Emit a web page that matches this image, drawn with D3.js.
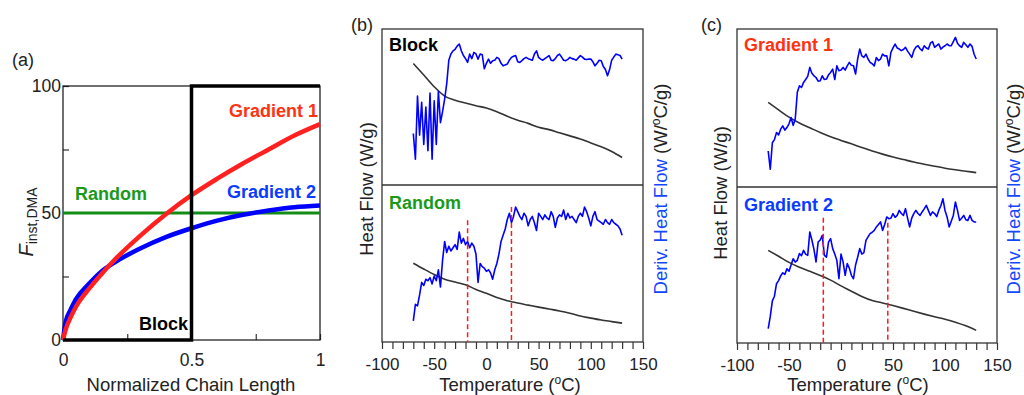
<!DOCTYPE html>
<html>
<head>
<meta charset="utf-8">
<script src="https://cdn.jsdelivr.net/npm/d3@7"></script>
<style>
  body { margin: 0; background: #fff; }
  svg { display: block; font-family: "Liberation Sans", Arial, sans-serif; }
</style>
</head>
<body>
<svg id="chart" width="1024" height="395"></svg>
<script>
// ---------- panel (a): composition along the chain ----------
const chainX = [0, 0.01, 0.03, 0.05, 0.1, 0.15, 0.2, 0.3, 0.4, 0.5, 0.6, 0.7, 0.8, 0.9, 1];
const grad1Fraction = [0, 4, 9, 13, 20, 26, 31.5, 41, 49.5, 57, 63.5, 69.5, 75, 80.5, 85];
const grad2Fraction = [0, 7, 12, 16, 22, 27, 30.5, 36, 40.5, 44, 47, 49.3, 51, 52.3, 53];
const blockX = [0, 0.5, 0.5, 1];
const blockFraction = [0, 0, 100, 100];
const randomX = [0, 1];
const randomFraction = [50, 50];
const chainTicks = [0, 0.25, 0.5, 0.75, 1];
const chainTickLabels = ["0", "", "0.5", "", "1"];
const fracTicks = [0, 25, 50, 75, 100];
const fracTickLabels = ["0", "", "50", "", "100"];

// ---------- DSC panels (b), (c) ----------
// heat flow sampled every 10 °C, derivative every 2 °C (arbitrary units, 0-100 per sub-plot)
const flowTemps = d3.range(-70, 131, 10);
const derivTemps = d3.range(-70, 131, 2);
const tempTicks = d3.range(-100, 151, 10);
const tempLabels = ["-100", "-50", "0", "50", "100", "150"];

const blockFlow = [77.9, 70.5, 63, 57, 54.3, 52.5, 50.8, 49.4, 47, 44, 41.5, 39.5, 37, 35.5, 33.5, 31.5, 29.5, 27, 24.5, 21.5, 17.6];
const blockDeriv = [
  33, 16.5, 57, 32, 53, 26, 50, 22, 59, 16.5, 54, 26, 60,
  40, 47, 55, 65, 80, 84, 86, 87, 89, 90.4, 86, 83,
  81, 78.6, 84, 81, 85, 84, 80.7, 84, 83.5, 74.5, 78, 80.7,
  78, 79.7, 80, 81.8, 81, 78, 76.4, 77, 77.5, 80, 81.8, 82.5,
  83, 79, 78.6, 79.7, 81, 81.8, 81, 80.5, 80, 84, 86, 81.8,
  80.7, 80, 81, 82, 83, 80, 79.7, 81, 83, 83.9, 82, 80,
  79.7, 80.5, 81.8, 81, 80.7, 80, 81.5, 82.9, 82, 80.7, 80.5, 80.7,
  80.7, 79, 76.4, 78, 80, 79.7, 76, 74, 70, 74, 80, 82,
  83.9, 83.5, 83, 80.7];

const randomFlow = [50.2, 46.5, 43, 40, 38.2, 36.5, 33.5, 31, 28.3, 26.3, 24.8, 23.5, 22.2, 21, 19.8, 18.3, 16.5, 15.2, 14, 13, 12];
const randomDeriv = [
  13.5, 24, 23, 30, 38, 36, 40, 39, 41, 37, 42, 39, 46,
  35, 52, 64, 57, 61, 58, 60, 62, 59, 70, 63, 66,
  62, 64, 60, 63, 61, 56, 38, 50, 48, 47, 45, 46,
  44, 40, 46, 50, 56, 64, 68, 72, 78, 82, 76, 80,
  86, 83, 80, 78, 82, 80, 74, 78, 80, 76, 71, 82,
  80, 78, 81, 79, 78, 83, 80, 73, 79, 81, 80, 84,
  78, 82, 79, 80, 78, 76, 80, 82, 80, 86, 83, 79,
  74, 80, 83, 78, 77, 76, 75, 78, 76, 75, 78, 76,
  75, 74, 72, 68];
const randomTg = [-18, 24];
const randomTgTop = [77.6, 86];

const grad1Flow = [53.5, 48.8, 44.2, 40.5, 37.5, 34.5, 31.8, 29.5, 27.3, 25, 22.8, 20.8, 19, 17.4, 15.8, 14.4, 13.1, 11.9, 10.9, 10, 9.1];
const grad1Deriv = [
  22.8, 11.2, 28, 30, 34.5, 33, 36.6, 38.7, 36, 37.6, 40, 44, 39,
  43, 60, 64, 63, 66.2, 68, 70, 75.7, 72, 70.4, 69.3, 67,
  67.2, 70.4, 68, 68.3, 71, 72.5, 74.6, 68, 76.7, 73.6, 74, 75.7,
  74, 76.7, 78.9, 77, 76.7, 71.5, 81, 87.3, 83, 82, 84.1, 81,
  78.9, 78, 76.7, 82, 80, 81, 84.1, 83, 83.1, 76.7, 85.2, 88,
  90.5, 88, 87.3, 86.3, 87, 88.4, 86, 84.1, 82, 86.3, 88.5, 89.4,
  87.5, 86.3, 89.4, 88, 87.3, 91, 92, 88.4, 89.5, 90.5, 87.3, 88.5,
  89.4, 90.5, 89.5, 89.4, 92, 94.7, 91, 89.4, 88.4, 91.5, 90, 88.4,
  90.5, 89, 84, 81];

const grad2Flow = [59.4, 55.6, 51.7, 48.6, 46, 43.3, 40.3, 36.6, 33.2, 29.8, 27.2, 25.7, 24, 22.2, 20.3, 18.5, 16.8, 15.2, 13.3, 11, 8.1];
const grad2Deriv = [
  9.2, 17, 27, 30, 38, 40, 43, 45, 44, 47.6, 46, 50, 54,
  51.9, 53, 57.3, 56, 59.4, 57, 56.2, 71.2, 66, 60, 51.9, 64.7,
  66, 69, 56.2, 55, 64.7, 66.9, 60.5, 57, 53, 41.2, 57, 52,
  43.4, 50.9, 48, 43.4, 41.2, 50, 55, 60.5, 57, 58, 65.8, 68,
  70.1, 71, 72.2, 74.4, 76, 77.6, 72.2, 76, 80.8, 79.7, 80, 82.9,
  80.5, 81.8, 85, 83, 81.8, 86.1, 80, 74.4, 80, 82.9, 85, 83,
  81.8, 84, 86, 88.2, 85, 81.8, 84, 83, 81, 85, 88, 92.5,
  85, 80.8, 74.4, 78, 81.8, 90.4, 85, 78.6, 80, 81.8, 79, 78.6,
  81.8, 78.6, 77.6, 77.6];
const grad2Tg = [-17, 45];
const grad2TgTop = [80.3, 77.1];

const ink = "#222";
const red = "#ff2020", blue = "#0000ff", green = "#138c13";
const redText = "#ff3311", blueText = "#0a3cff", greenText = "#1a9a1a";

const svg = d3.select("#chart");
svg.append("rect").attr("width", 1024).attr("height", 395).attr("fill", "#fff");

function styleAxis(g, size) {
  g.select(".domain").remove();
  g.selectAll(".tick line").attr("stroke", "#333").attr("stroke-width", 1.2);
  g.selectAll(".tick text").attr("fill", ink).style("font-size", size + "px").style("font-family", "Liberation Sans, Arial, sans-serif");
}

// ================= panel (a) =================
const ax = d3.scaleLinear().domain([0, 1]).range([63, 320]);
const ay = d3.scaleLinear().domain([0, 100]).range([340, 86]);

svg.append("g")
  .attr("transform", "translate(0,340)")
  .call(d3.axisBottom(ax).tickValues(chainTicks).tickSize(-6).tickSizeOuter(0).tickPadding(14)
    .tickFormat((d, i) => chainTickLabels[i]))
  .call(g => styleAxis(g, 17.5));

svg.append("g")
  .attr("transform", "translate(63,0)")
  .call(d3.axisLeft(ay).tickValues(fracTicks).tickSize(-6).tickSizeOuter(0).tickPadding(2)
    .tickFormat((d, i) => fracTickLabels[i]))
  .call(g => styleAxis(g, 17.5));

svg.append("rect").attr("x", 63).attr("y", 86).attr("width", 257).attr("height", 254)
  .attr("fill", "none").attr("stroke", "#111").attr("stroke-width", 1.2);

const aLine = d3.line().x(d => ax(d[0])).y(d => ay(d[1]));
svg.append("path").attr("d", aLine(d3.zip(randomX, randomFraction)))
  .attr("fill", "none").attr("stroke", green).attr("stroke-width", 3);
svg.append("path").attr("d", aLine.curve(d3.curveMonotoneX)(d3.zip(chainX, grad2Fraction)))
  .attr("fill", "none").attr("stroke", blue).attr("stroke-width", 4.5);
svg.append("path").attr("d", aLine.curve(d3.curveMonotoneX)(d3.zip(chainX, grad1Fraction)))
  .attr("fill", "none").attr("stroke", red).attr("stroke-width", 4.5);
svg.append("path").attr("d", aLine.curve(d3.curveLinear)(d3.zip(blockX, blockFraction)))
  .attr("fill", "none").attr("stroke", "#000").attr("stroke-width", 3.5);

const boldLabel = (x, y, txt, col, anchor) => svg.append("text")
  .attr("x", x).attr("y", y).attr("text-anchor", anchor || "start")
  .attr("fill", col).style("font-size", "18px").style("font-weight", "bold").text(txt);

boldLabel(318, 117, "Gradient 1", redText, "end");
boldLabel(316, 198, "Gradient 2", blueText, "end");
boldLabel(75, 200, "Random", greenText);
boldLabel(188, 330, "Block", "#000", "end");

svg.append("text").attr("x", 12).attr("y", 66).attr("fill", ink).style("font-size", "18px").text("(a)");
svg.append("text").attr("x", 191).attr("y", 391).attr("text-anchor", "middle").attr("fill", ink)
  .style("font-size", "18.5px").text("Normalized Chain Length");

const fLab = svg.append("text").attr("transform", "translate(33,222) rotate(-90)")
  .attr("text-anchor", "middle").attr("fill", ink);
fLab.append("tspan").style("font-size", "20px").style("font-style", "italic").text("F");
fLab.append("tspan").style("font-size", "14px").attr("dy", 4).text("inst,DMA");

// ================= panels (b) and (c) =================
function degreeText(sel, before, after) {
  sel.append("tspan").text(before);
  sel.append("tspan").style("font-size", "12px").attr("dy", -7).text("o");
  sel.append("tspan").attr("dy", 7).text(after);
}

function drawDsc(p) {
  const x = d3.scaleLinear().domain([-100, 150]).range([p.left, p.right]);
  const yTop = d3.scaleLinear().domain([0, 100]).range([p.mid, p.top]);
  const yBot = d3.scaleLinear().domain([0, 100]).range([p.bottom, p.mid]);
  const g = svg.append("g");

  g.append("g")
    .attr("transform", `translate(0,${p.bottom})`)
    .call(d3.axisBottom(x).tickValues(tempTicks).tickSize(7).tickSizeOuter(0).tickPadding(9)
      .tickFormat(d => (d % 50 === 0 ? tempLabels[(d + 100) / 50] : "")))
    .call(a => styleAxis(a, 17));

  g.append("rect").attr("x", p.left).attr("y", p.top)
    .attr("width", p.right - p.left).attr("height", p.bottom - p.top)
    .attr("fill", "none").attr("stroke", "#333").attr("stroke-width", 1.3);
  g.append("line").attr("x1", p.left).attr("x2", p.right).attr("y1", p.mid).attr("y2", p.mid)
    .attr("stroke", "#333").attr("stroke-width", 1.3);

  [[p.topFlow, p.topDeriv, yTop], [p.botFlow, p.botDeriv, yBot]].forEach(([flow, deriv, y]) => {
    g.append("path")
      .attr("d", d3.line().x((d, i) => x(flowTemps[i])).y(d => y(d)).curve(d3.curveMonotoneX)(flow))
      .attr("fill", "none").attr("stroke", "#333").attr("stroke-width", 1.6);
    g.append("path")
      .attr("d", d3.line().x((d, i) => x(derivTemps[i])).y(d => y(d))(deriv))
      .attr("fill", "none").attr("stroke", blue).attr("stroke-width", 1.6).attr("stroke-linejoin", "round");
  });

  p.tg.forEach((t, i) => {
    g.append("line").attr("x1", x(t)).attr("x2", x(t)).attr("y1", yBot(p.tgTop[i])).attr("y2", yBot(0))
      .attr("stroke", "#ff1a1a").attr("stroke-width", 1.5).attr("stroke-dasharray", "5,3");
  });

  g.append("text").attr("x", p.left + 7).attr("y", p.top + 22).attr("fill", p.topColor)
    .style("font-size", "18px").style("font-weight", "bold").text(p.topName);
  g.append("text").attr("x", p.left + 7).attr("y", p.mid + 24).attr("fill", p.botColor)
    .style("font-size", "18px").style("font-weight", "bold").text(p.botName);

  g.append("text").attr("x", p.letterX).attr("y", 31).attr("fill", ink).style("font-size", "18px").text(p.letter);

  const xt = g.append("text").attr("x", p.titleX).attr("y", 391).attr("text-anchor", "middle")
    .attr("fill", ink).style("font-size", "18.5px");
  degreeText(xt, "Temperature (", "C)");

  g.append("text").attr("transform", `translate(${p.leftLabX},${p.leftLabY}) rotate(-90)`)
    .attr("text-anchor", "middle").attr("fill", ink).style("font-size", "18.5px").text("Heat Flow (W/g)");

  const rt = g.append("text").attr("transform", `translate(${p.rightLabX},189) rotate(-90)`)
    .attr("text-anchor", "middle").attr("fill", ink).style("font-size", "18.5px");
  rt.append("tspan").attr("fill", "#1446ff").text("Deriv. Heat Flow");
  degreeText(rt, " (W/", "C/g)");
}

drawDsc({
  left: 382, right: 643, top: 29, mid: 185, bottom: 342,
  topFlow: blockFlow, topDeriv: blockDeriv, botFlow: randomFlow, botDeriv: randomDeriv,
  tg: randomTg, tgTop: randomTgTop,
  topName: "Block", topColor: "#000", botName: "Random", botColor: greenText,
  letter: "(b)", letterX: 351, titleX: 510,
  leftLabX: 373, leftLabY: 189, rightLabX: 667
});

drawDsc({
  left: 737, right: 997, top: 29, mid: 187, bottom: 343,
  topFlow: grad1Flow, topDeriv: grad1Deriv, botFlow: grad2Flow, botDeriv: grad2Deriv,
  tg: grad2Tg, tgTop: grad2TgTop,
  topName: "Gradient 1", topColor: redText, botName: "Gradient 2", botColor: blueText,
  letter: "(c)", letterX: 701, titleX: 858,
  leftLabX: 727, leftLabY: 193, rightLabX: 1020
});
</script>
</body>
</html>
